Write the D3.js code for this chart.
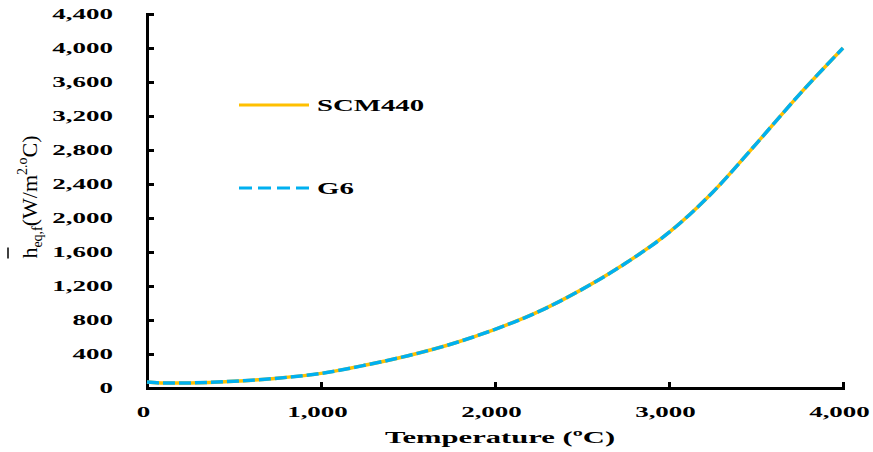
<!DOCTYPE html>
<html>
<head>
<meta charset="utf-8">
<script src="https://cdn.jsdelivr.net/npm/d3@7"></script>
<style>
  html, body { margin: 0; padding: 0; background: #fff; }
  svg { display: block; }
  text { font-family: "Liberation Serif", "Times New Roman", serif; font-weight: bold; fill: #000; }
</style>
</head>
<body>
<svg id="chart" width="873" height="452"></svg>
<script>
// Temperature (°C) and equivalent heat transfer coefficient (W/m²·°C)
const temperatures = [0, 100, 250, 500, 750, 1000, 1250, 1500, 1750, 2000, 2250, 2500, 2750, 3000, 3250, 3500, 3750, 4000];
const scm440 = [70, 58, 60, 80, 115, 172, 267, 380, 518, 690, 898, 1160, 1467, 1830, 2300, 2870, 3455, 4000];
const g6     = [70, 58, 60, 80, 115, 172, 267, 380, 518, 690, 898, 1160, 1467, 1830, 2300, 2870, 3455, 4000];
const xTicks = [0, 1000, 2000, 3000, 4000];
const yTicks = [0, 400, 800, 1200, 1600, 2000, 2400, 2800, 3200, 3600, 4000, 4400];
const seriesNames = ["SCM440", "G6"];
const seriesColors = ["#FFC000", "#00B0F0"];

const SX = 1.8; // wide lettering

const svg = d3.select("#chart");
const x = d3.scaleLinear().domain([0, 4000]).range([147, 843]);
const y = d3.scaleLinear().domain([0, 4400]).range([388, 14]);
const fmt = d3.format(",");

// Axes (ticks point inward)
const yAxis = d3.axisLeft(y).tickValues(yTicks).tickSizeInner(-7).tickSizeOuter(0).tickPadding(34).tickFormat(fmt);
const xAxis = d3.axisBottom(x).tickValues(xTicks).tickSizeInner(-6).tickSizeOuter(0).tickPadding(20).tickFormat(fmt);

const gy = svg.append("g").attr("transform", `translate(${x(0)},0)`).call(yAxis);
const gx = svg.append("g").attr("transform", `translate(0,${y(0)})`).call(xAxis);

[gx, gy].forEach(g => {
  g.select(".domain").attr("stroke", "#000").attr("stroke-width", 3).attr("stroke-linecap", "square");
  g.selectAll(".tick line").attr("stroke", "#000").attr("stroke-width", 3);
});

gy.selectAll(".tick text")
  .attr("x", null).attr("dy", null)
  .attr("font-size", 15)
  .attr("text-anchor", "end")
  .attr("dominant-baseline", "central")
  .attr("transform", `translate(-34,0) scale(${SX},1)`);

gx.selectAll(".tick text")
  .attr("y", null).attr("dy", null)
  .attr("font-size", 15)
  .attr("text-anchor", "middle")
  .attr("transform", `translate(-4,29) scale(${SX},1)`);

// Axis titles
svg.append("text")
  .attr("font-size", 17)
  .attr("text-anchor", "middle")
  .attr("transform", `translate(500,443) scale(${SX},1)`)
  .text("Temperature (ºC)");

const yl = svg.append("g").attr("transform", "translate(37,197) rotate(-90)");
const ylt = yl.append("text").attr("font-size", 22).attr("text-anchor", "middle")
  .style("font-weight", "normal");
ylt.append("tspan").text("h");
ylt.append("tspan").attr("font-size", 14).attr("dy", 5).text("eq,f");
ylt.append("tspan").attr("dy", -5).text("(W/m");
ylt.append("tspan").attr("font-size", 14).attr("dy", -10).text("2.o");
ylt.append("tspan").attr("dy", 10).text("C)");
// overbar above the h
const n0 = ylt.node();
const p0 = n0.getStartPositionOfChar(0), p1 = n0.getEndPositionOfChar(0);
yl.append("line")
  .attr("x1", p0.x).attr("x2", p1.x)
  .attr("y1", -29).attr("y2", -29)
  .attr("stroke", "#000").attr("stroke-width", 1.5);

// Series lines
const line = d3.line()
  .x((d, i) => x(temperatures[i]))
  .y(d => y(d))
  .curve(d3.curveMonotoneX);

svg.append("path").datum(scm440)
  .attr("d", line).attr("fill", "none")
  .attr("stroke", seriesColors[0]).attr("stroke-width", 3.5);
svg.append("path").datum(g6)
  .attr("d", line).attr("fill", "none")
  .attr("stroke", seriesColors[1]).attr("stroke-width", 3.5)
  .attr("stroke-dasharray", "12,4");

// Legend
const legendY = [105, 188];
seriesNames.forEach((name, i) => {
  svg.append("line")
    .attr("x1", 239).attr("x2", 309)
    .attr("y1", legendY[i]).attr("y2", legendY[i])
    .attr("stroke", seriesColors[i]).attr("stroke-width", 3)
    .attr("stroke-dasharray", i === 1 ? "13,6" : null);
  svg.append("text")
    .attr("font-size", 16)
    .attr("transform", `translate(317,${legendY[i] + 6}) scale(${SX},1)`)
    .text(name);
});
</script>
</body>
</html>
